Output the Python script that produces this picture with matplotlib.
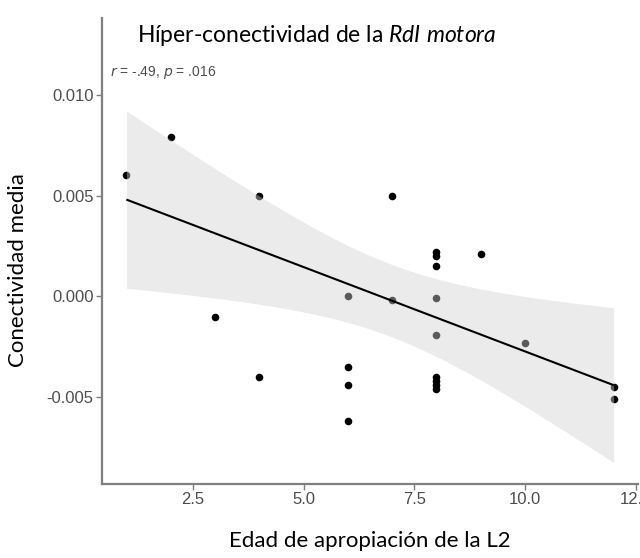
import matplotlib
matplotlib.use("Agg")
import matplotlib.pyplot as plt
import numpy as np

# Observations: age of L2 acquisition vs. mean connectivity
age = [1, 2, 3, 4, 4, 6, 6, 6, 6, 7, 7,
       8, 8, 8, 8, 8, 8, 8, 8, 8, 9, 10, 12, 12]
connectivity = [0.0060, 0.0079, -0.0010, 0.0050, -0.0040,
                0.0000, -0.0035, -0.0044, -0.0062,
                0.0050, -0.0002,
                0.0022, 0.0020, 0.0015, -0.0001, -0.0019,
                -0.0040, -0.0042, -0.0044, -0.0046,
                0.0021, -0.0023, -0.0045, -0.0051]

# Fitted regression line (end points) and the scale of its 95% band (t * SE)
fit_x = [1, 12]
fit_y = [0.0048, -0.0044]
band_scale = 0.0088

x_ticks = [2.5, 5.0, 7.5, 10.0, 12.5]
x_tick_labels = ["2.5", "5.0", "7.5", "10.0", "12.5"]
y_ticks = [-0.005, 0.000, 0.005, 0.010]
y_tick_labels = ["-0.005", "0.000", "0.005", "0.010"]

title_text = r"Híper-conectividad de la $\mathit{RdI\ motora}$"
stat_text = r"$\it{r}$ = -.49, $\it{p}$ = .016"
x_label = "Edad de apropiación de la L2"
y_label = "Conectividad media"

plt.rcParams["mathtext.fontset"] = "custom"
plt.rcParams["mathtext.rm"] = "Lato"
plt.rcParams["mathtext.it"] = "Lato:italic"

# Confidence band around the fitted line, shaped by the spread of the x values
xa = np.asarray(age, dtype=float)
n = xa.size
sxx = np.sum((xa - xa.mean()) ** 2)
grid = np.linspace(fit_x[0], fit_x[1], 200)
centre = np.interp(grid, fit_x, fit_y)
half = band_scale * np.sqrt(1.0 / n + (grid - xa.mean()) ** 2 / sxx)

W, H = 640, 558
fig = plt.figure(figsize=(W / 100, H / 100), dpi=100)
ax = fig.add_axes([102 / W, 1 - 484 / H, (638 - 102) / W, (484 - 18) / H])

ax.scatter(age, connectivity, s=30, color="black", zorder=2, linewidths=0)
ax.fill_between(grid, centre - half, centre + half, color=(0.82, 0.82, 0.82),
                alpha=0.43, linewidth=0, zorder=3)
ax.plot(fit_x, fit_y, color="black", lw=1.5, zorder=4, solid_capstyle="butt")

ax.set_xlim(0.45, 12.55)
ax.set_ylim(-0.0093, 0.0138)

ax.set_xticks(x_ticks)
ax.set_xticklabels(x_tick_labels)
ax.set_yticks(y_ticks)
ax.set_yticklabels(y_tick_labels)

grey = "#7f7f7f"
for side in ("top", "right"):
    ax.spines[side].set_visible(False)
for side in ("left", "bottom"):
    ax.spines[side].set_color(grey)
    ax.spines[side].set_linewidth(1.6)
ax.tick_params(axis="both", colors=grey, length=4, width=1.0,
               labelsize=12, labelcolor="#4d4d4d", pad=2)
for lab in ax.get_xticklabels() + ax.get_yticklabels():
    lab.set_family("Liberation Sans")

ax.text(0.63, 0.0111, stat_text, ha="left", va="center", fontsize=10,
        color="#4d4d4d", family="Liberation Sans",
        math_fontfamily="dejavusans")

fig.text(137 / W, 1 - 35 / H, title_text, ha="left", va="center",
         fontsize=16.5, family="Lato", color="black")
fig.text(370 / W, 1 - 541 / H, x_label, ha="center", va="center",
         fontsize=16, family="Lato", color="black")
fig.text(18 / W, 1 - 270 / H, y_label, ha="center", va="center",
         rotation=90, fontsize=16, family="Lato", color="black")

fig.savefig("out.png", dpi=100, facecolor="white")
